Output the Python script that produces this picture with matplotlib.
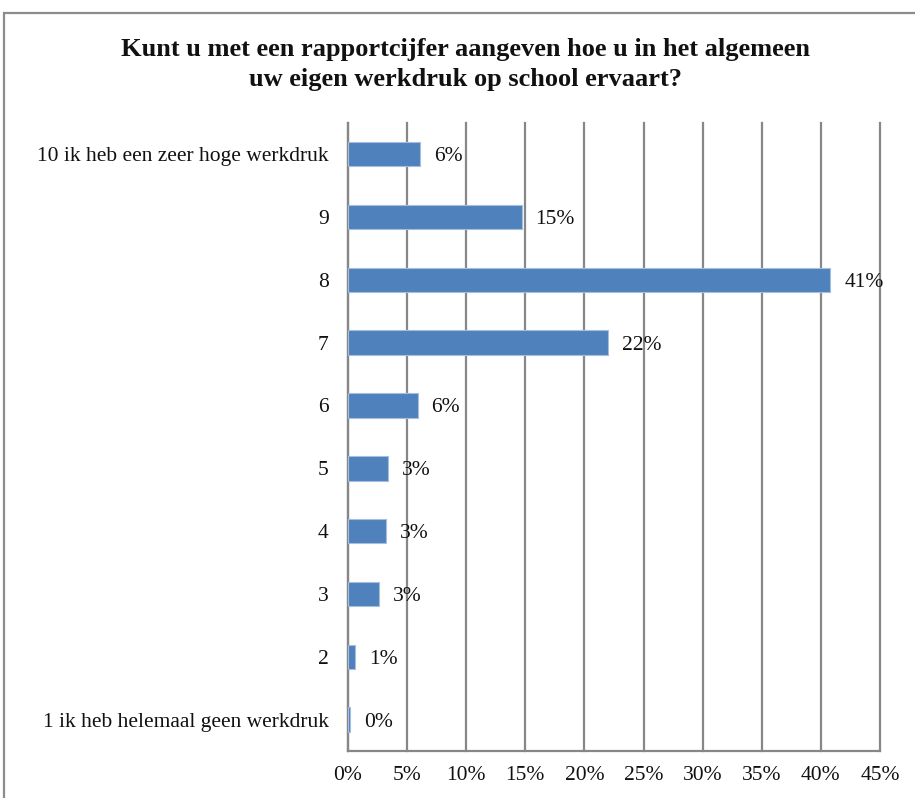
"""Werkdruk-rapportcijfer: horizontal bar chart."""
import matplotlib
matplotlib.use("Agg")
import matplotlib.pyplot as plt
from matplotlib.patches import Rectangle
from matplotlib.ticker import FuncFormatter, MultipleLocator

# data (bottom to top, as drawn)
categories = [
    "1 ik heb helemaal geen werkdruk",
    "2",
    "3",
    "4",
    "5",
    "6",
    "7",
    "8",
    "9",
    "10 ik heb een zeer hoge werkdruk",
]
percentages = [0.2, 0.6, 2.6, 3.2, 3.4, 5.9, 22.0, 40.8, 14.7, 6.1]
title = ("Kunt u met een rapportcijfer aangeven hoe u in het algemeen\n"
         "uw eigen werkdruk op school ervaart?")

BAR = "#4F81BD"
GRID = "#878787"
FS = 15.5
plt.rcParams["font.family"] = ["Liberation Serif", "DejaVu Serif"]

fig = plt.figure(figsize=(9.15, 7.98), dpi=100)
ax = fig.add_axes([0.3803, 0.0589, 0.5814, 0.7872])

y = range(len(categories))
ax.barh(y, percentages, height=0.39, color=BAR, edgecolor="#A5BEDD", linewidth=0.8, zorder=3)
for yi, v in zip(y, percentages):
    ax.annotate(f"{v:.0f}%", (v, yi), xytext=(10, 0), textcoords="offset points",
                ha="left", va="center_baseline", fontsize=FS, color="#111111", zorder=4)

ax.set_xlim(0, 45)
ax.set_ylim(-0.5, len(categories) - 0.5)
ax.xaxis.set_major_locator(MultipleLocator(5))
ax.xaxis.set_major_formatter(FuncFormatter(lambda x, _: f"{x:.0f}%"))
ax.set_yticks(list(y))
ax.set_yticklabels(categories)
ax.tick_params(axis="x", length=0, pad=11, labelsize=FS, colors="#111111")
ax.tick_params(axis="y", length=0, pad=14, labelsize=FS, colors="#111111")
ax.grid(axis="x", color=GRID, linewidth=1.6, zorder=0)
for line in ax.get_xgridlines():
    line.set_clip_on(False)
ax.set_axisbelow(True)
for side in ("top", "right"):
    ax.spines[side].set_visible(False)
for side in ("left", "bottom"):
    ax.spines[side].set_color(GRID)
    ax.spines[side].set_linewidth(1.6)

fig.text(0.509, 0.919, title, ha="center", va="center", fontsize=19,
         fontweight="bold", linespacing=1.38, color="#111111")

# chart frame
fig.patches.append(Rectangle((4 / 915, -0.1), 1.2, 1 - 13 / 798 + 0.1,
                             transform=fig.transFigure, fill=False,
                             edgecolor="#8C8C8C", linewidth=1.6))

fig.savefig("out.png", dpi=100)
plt.close(fig)
